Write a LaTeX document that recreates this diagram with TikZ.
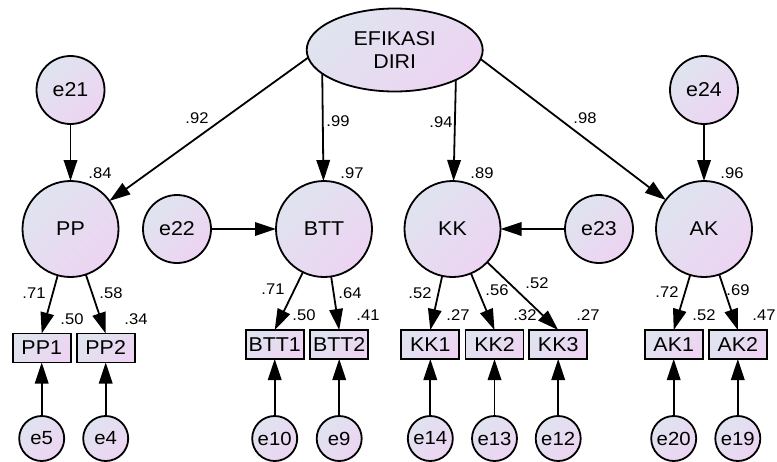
\documentclass[tikz,border=0pt]{standalone}
\usepackage{fontspec}
\setmainfont{Liberation Sans}[FakeStretch=1.07]
\usetikzlibrary{arrows.meta,shapes.geometric}
\definecolor{ca}{RGB}{223,228,239}
\definecolor{cb}{RGB}{237,212,242}
\begin{document}
\begin{tikzpicture}[x=1pt,y=-1pt,
  shadebase/.style={draw=black, line width=1.8pt, top color=ca, bottom color=cb, shading angle=45, inner sep=0pt, outer sep=0pt, text=black},
  latent/.style={shadebase, circle, minimum size=96pt, font=\fontsize{20}{24}\selectfont},
  errbig/.style={shadebase, circle, minimum size=68pt, font=\fontsize{20}{24}\selectfont},
  errsmall/.style={shadebase, circle, minimum size=45pt, font=\fontsize{19}{23}\selectfont},
  obs/.style={shadebase, rectangle, minimum width=58pt, minimum height=29pt, font=\fontsize{20}{24}\selectfont},
  lab/.style={inner sep=0pt, font=\fontsize{15.5}{18}\selectfont},
  arr/.style={line width=1.8pt, -{Triangle[length=21pt,width=13.5pt]}},
]
\useasboundingbox (0,0) rectangle (777,461);

% latent top
\node[shadebase, ellipse, minimum width=176pt, minimum height=83pt, align=center, font=\fontsize{20}{23}\selectfont] (ef) at (394.7,50) {EFIKASI\\DIRI};

% first-order latents
\node[latent] (PP) at (70.5,229) {PP};
\node[latent] (BTT) at (324,229) {BTT};
\node[latent] (KK) at (452.5,229) {KK};
\node[latent] (AK) at (704,229) {AK};

% disturbances
\node[errbig] (e21) at (70.5,90) {e21};
\node[errbig] (e24) at (704,90) {e24};
\node[errbig] (e22) at (177,229) {e22};
\node[errbig] (e23) at (599,229) {e23};

% observed
\node[obs] (PP1) at (41.7,348) {PP1};
\node[obs] (PP2) at (105.7,348) {PP2};
\node[obs] (BTT1) at (274.7,344.5) {BTT1};
\node[obs] (BTT2) at (339.2,344.5) {BTT2};
\node[obs] (KK1) at (430.3,344.5) {KK1};
\node[obs] (KK2) at (494.5,344.5) {KK2};
\node[obs] (KK3) at (558.2,344.5) {KK3};
\node[obs] (AK1) at (673.7,344.5) {AK1};
\node[obs] (AK2) at (737.8,344.5) {AK2};

% measurement errors
\node[errsmall] (e5) at (41.7,438.5) {e5};
\node[errsmall] (e4) at (105.7,438.5) {e4};
\node[errsmall] (e10) at (274.7,438.5) {e10};
\node[errsmall] (e9) at (339.2,438.5) {e9};
\node[errsmall] (e14) at (430.3,438.5) {e14};
\node[errsmall] (e13) at (494.5,438.5) {e13};
\node[errsmall] (e12) at (558.2,438.5) {e12};
\node[errsmall] (e20) at (673.7,438.5) {e20};
\node[errsmall] (e19) at (737.8,438.5) {e19};

% structural paths
\draw[arr] (ef.185) -- (PP);
\draw[arr] (ef.198.6) -- (BTT);
\draw[arr] (ef.334.9) -- (KK);
\draw[arr] (ef.354) -- (AK);

\draw[arr] (e21) -- (PP);
\draw[arr] (e24) -- (AK);
\draw[arr] (e22) -- (BTT);
\draw[arr] (e23) -- (KK);

% loadings
\draw[arr] (PP) -- (PP1.north);
\draw[arr] (PP) -- (PP2.north);
\draw[arr] (BTT) -- (BTT1.north);
\draw[arr] (BTT) -- (BTT2.north);
\draw[arr] (KK) -- (KK1.north);
\draw[arr] (KK) -- (KK2.north);
\draw[arr] (KK) -- (KK3.north);
\draw[arr] (AK) -- (AK1.north);
\draw[arr] (AK) -- (AK2.north);

% errors to indicators
\draw[arr] (e5) -- (PP1);
\draw[arr] (e4) -- (PP2);
\draw[arr] (e10) -- (BTT1);
\draw[arr] (e9) -- (BTT2);
\draw[arr] (e14) -- (KK1);
\draw[arr] (e13) -- (KK2);
\draw[arr] (e12) -- (KK3);
\draw[arr] (e20) -- (AK1);
\draw[arr] (e19) -- (AK2);

% labels
\node[lab] (l1) at (197,118) {.92};
\node[lab] (l2) at (338,121) {.99};
\node[lab] (l3) at (441,122) {.94};
\node[lab] (l4) at (585,118) {.98};
\node[lab] (l5) at (100,173) {.84};
\node[lab] (l6) at (352,173) {.97};
\node[lab] (l7) at (482,173) {.89};
\node[lab] (l8) at (732,173) {.96};

\node[lab] (l9) at (34,293) {.71};
\node[lab] (l10) at (111,293) {.58};
\node[lab] (l11) at (72,319) {.50};
\node[lab] (l12) at (136,319) {.34};

\node[lab] (l13) at (273,289) {.71};
\node[lab] (l14) at (350,293) {.64};
\node[lab] (l15) at (304,315) {.50};
\node[lab] (l16) at (368,315) {.41};

\node[lab] (l17) at (420,293) {.52};
\node[lab] (l18) at (497,290) {.56};
\node[lab] (l19) at (537,283) {.52};
\node[lab] (l20) at (458,315) {.27};
\node[lab] (l21) at (525,315) {.32};
\node[lab] (l22) at (588,315) {.27};

\node[lab] (l23) at (667,292) {.72};
\node[lab] (l24) at (738,290) {.69};
\node[lab] (l25) at (704,315) {.52};
\node[lab] (l26) at (764,315) {.47};
\end{tikzpicture}
\end{document}
